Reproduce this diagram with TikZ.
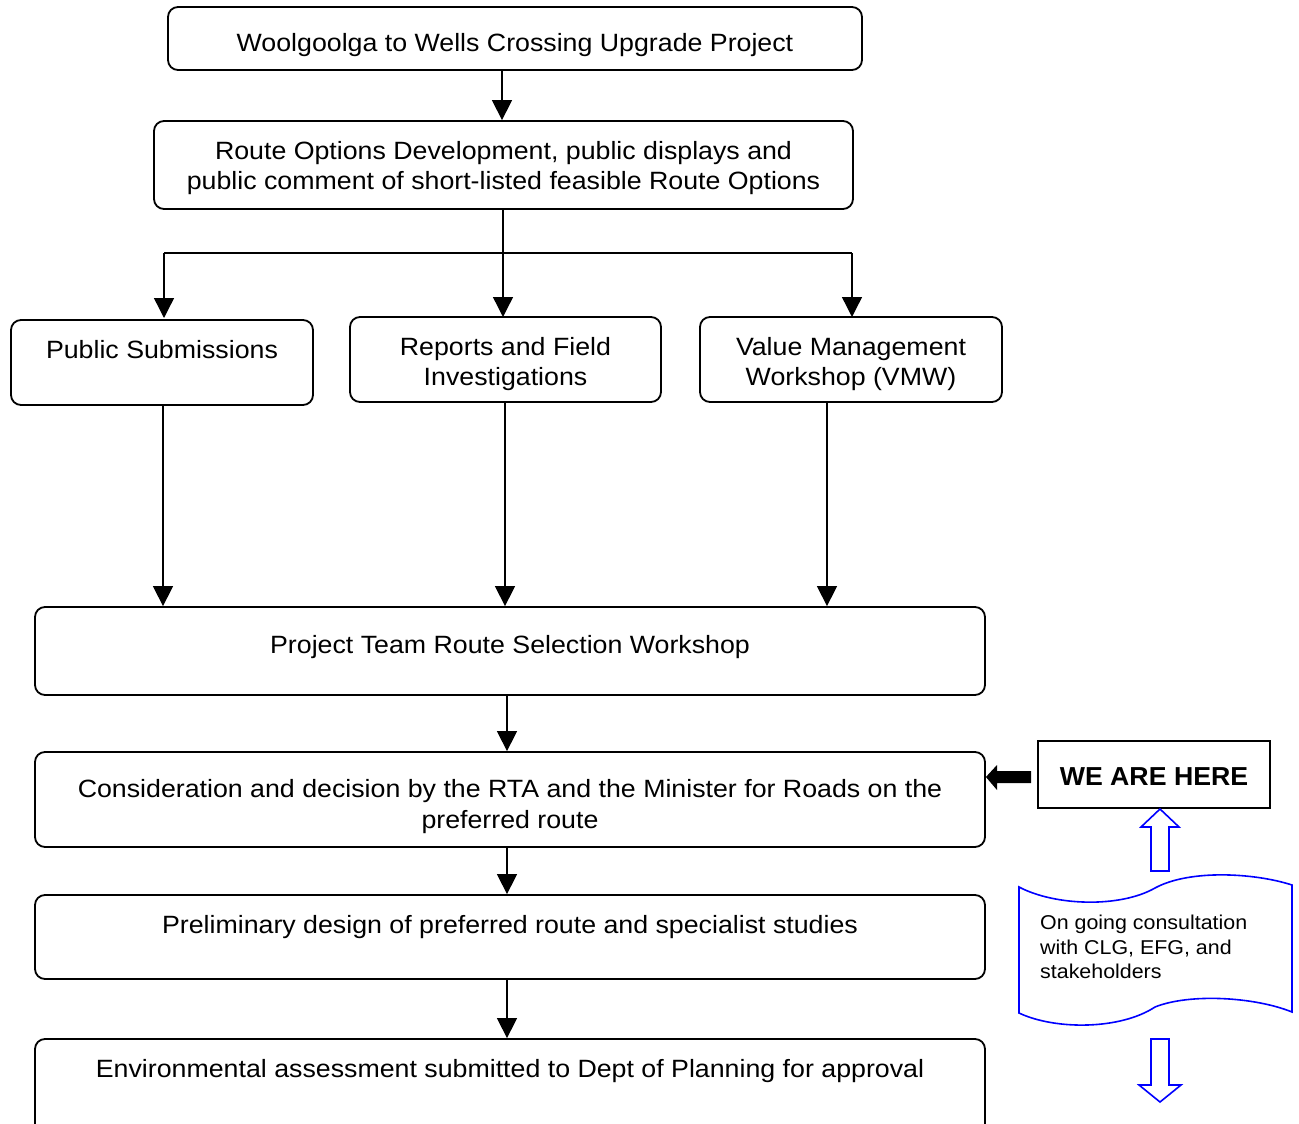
\documentclass[tikz,border=0pt]{standalone}
\usepackage{fontspec}
\setmainfont{Liberation Sans}[FakeStretch=1.07]
\newfontfamily\wefont{Liberation Sans}[FakeStretch=1.027]
\usetikzlibrary{arrows.meta}
\begin{document}
\begin{tikzpicture}[x=1pt,y=-1pt,
  box/.style={draw=black,line width=1.8pt,rounded corners=10pt,fill=none},
  txt/.style={anchor=base,inner sep=0pt,font=\fontsize{25}{30}\selectfont},
  small/.style={anchor=base west,inner sep=0pt,font=\fontsize{20}{24}\selectfont},
  conn/.style={draw=black,line width=1.4pt},
  arr/.style={conn,-{Triangle[length=20pt,width=20pt]}},
  bluearrow/.style={draw={rgb,255:red,0;green,0;blue,255},line width=1.6pt,fill=white,line join=miter}
]
\useasboundingbox (0,0) rectangle (1299,1124);
\begin{scope}
\clip (0,0) rectangle (1299,1124);
% boxes
\node[box,minimum width=694pt,minimum height=63pt] (b1) at (515,38.5) {};
\node[box,minimum width=699pt,minimum height=88pt] (b2) at (503.5,165) {};
\node[box,minimum width=302pt,minimum height=85pt] (b3) at (162,362.5) {};
\node[box,minimum width=311pt,minimum height=85pt] (b4) at (505.5,359.5) {};
\node[box,minimum width=302pt,minimum height=85pt] (b5) at (851,359.5) {};
\node[box,minimum width=950pt,minimum height=88pt] (b6) at (510,651) {};
\node[box,minimum width=950pt,minimum height=95pt] (b7) at (510,799.5) {};
\node[box,minimum width=950pt,minimum height=84pt] (b8) at (510,937) {};
\node[box,minimum width=950pt,minimum height=100pt] (b9) at (510,1089) {};
\end{scope}
% texts
\node[txt] (t1) at (515,52) {Woolgoolga to Wells Crossing Upgrade Project};
\node[txt] (t2a) at (503.5,159) {Route Options Development, public displays and};
\node[txt] (t2b) at (503.5,189) {public comment of short-listed feasible Route Options};
\node[txt] (t3) at (162,358) {Public Submissions};
\node[txt] (t4a) at (505.5,355) {Reports and Field};
\node[txt] (t4b) at (505.5,385) {Investigations};
\node[txt] (t5a) at (851,355) {Value Management};
\node[txt] (t5b) at (851,385) {Workshop (VMW)};
\node[txt] (t6) at (510,653) {Project Team Route Selection Workshop};
\node[txt] (t7a) at (510,797) {Consideration and decision by the RTA and the Minister for Roads on the};
\node[txt] (t7b) at (510,828) {preferred route};
\node[txt] (t8) at (510,933) {Preliminary design of preferred route and specialist studies};
\node[txt] (t9) at (510,1077) {Environmental assessment submitted to Dept of Planning for approval};
% connectors
\coordinate (j) at (503,253);
\coordinate (jl) at (164,253);
\coordinate (jr) at (852,253);
\draw[arr] (b1.south -| 502,0) -- (b2.north -| 502,0);
\draw[conn] (b2.south -| j) -- (j);
\draw[conn] (jl) -- (jr);
\draw[arr] (jl) -- (164,318);
\draw[arr] (j) -- (503,317);
\draw[arr] (jr) -- (852,317);
\draw[arr] (b3.south -| 163,0) -- (b6.north -| 163,0);
\draw[arr] (b4.south -| 505,0) -- (b6.north -| 505,0);
\draw[arr] (b5.south -| 827,0) -- (b6.north -| 827,0);
\draw[arr] (b6.south -| 507,0) -- (b7.north -| 507,0);
\draw[arr] (b7.south -| 507,0) -- (b8.north -| 507,0);
\draw[arr] (b8.south -| 507,0) -- (b9.north -| 507,0);
% WE ARE HERE
\node[draw=black,line width=1.6pt,minimum width=232pt,minimum height=67pt] (we) at (1154,774.5) {};
\node[anchor=base,inner sep=0pt,font=\wefont\fontsize{26}{30}\selectfont\bfseries] (wet) at (1154,785) {WE ARE HERE};
\fill[black] (1031,771) -- (997,771) -- (997,765) -- (b7.east |- 0,777) -- (997,790) -- (997,783) -- (1031,783) -- cycle;
% blue up arrow
\draw[bluearrow] (1151,871) -- (1151,827) -- (1141,827) -- (1160,809) -- (1179,827) -- (1169,827) -- (1169,871) -- cycle;
% document shape
\draw[bluearrow] (1019,887) .. controls (1055,906) and (1120,908) .. (1155,888)
  .. controls (1190,869) and (1255,873) .. (1292,885) -- (1292,1012)
  .. controls (1255,997) and (1190,993) .. (1155,1007)
  .. controls (1120,1030) and (1055,1030) .. (1019,1013) -- cycle;
\node[small] (c1) at (1040,929) {On going consultation};
\node[small] (c2) at (1040,954) {with CLG, EFG, and};
\node[small] (c3) at (1040,978) {stakeholders};
% blue down arrow
\draw[bluearrow] (1151,1039) -- (1151,1085) -- (1139,1085) -- (1160,1102) -- (1181,1085) -- (1169,1085) -- (1169,1039) -- cycle;
\end{tikzpicture}
\end{document}
